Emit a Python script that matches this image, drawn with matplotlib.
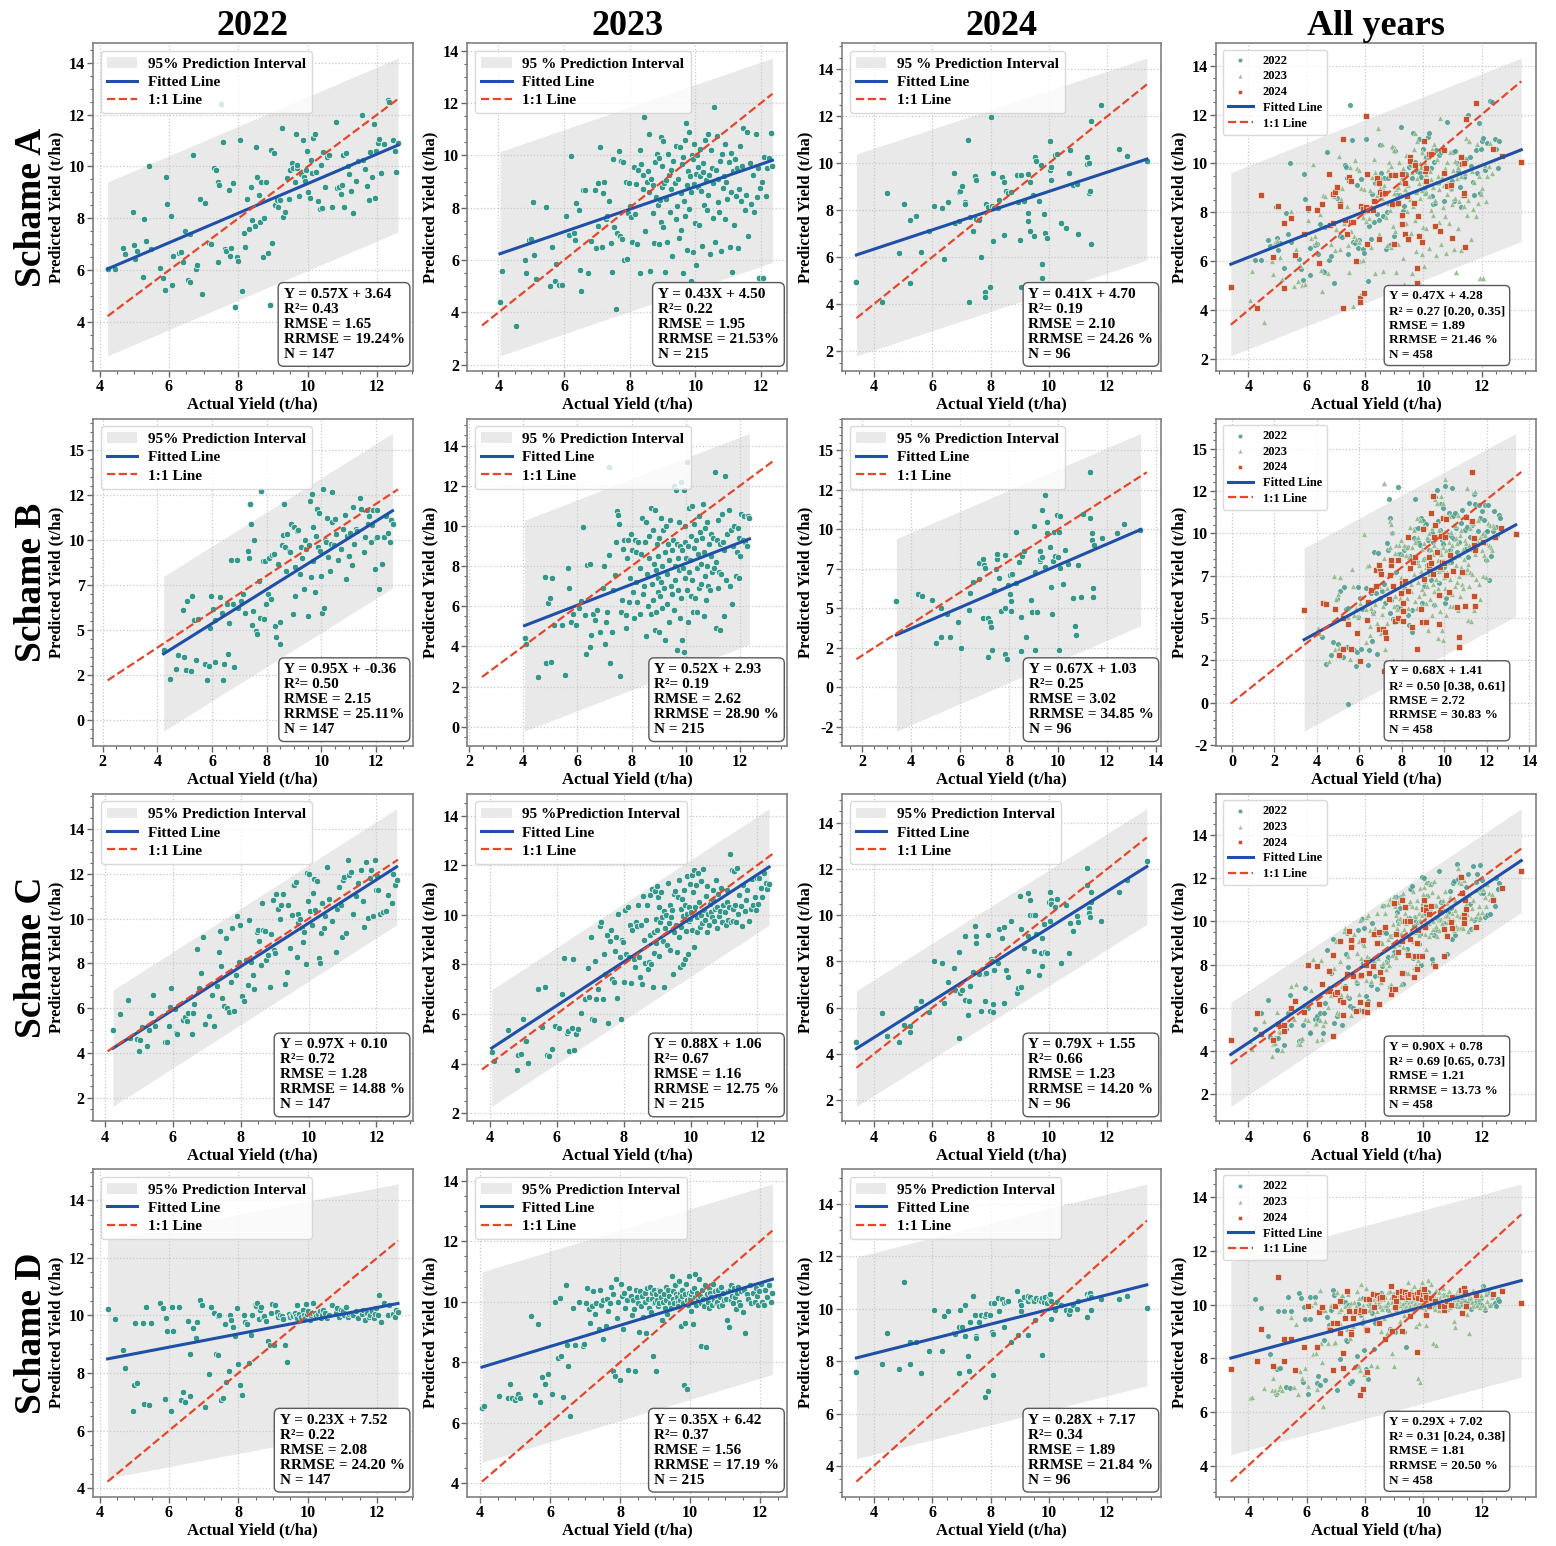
import matplotlib.pyplot as plt
import numpy as np
from matplotlib.ticker import MultipleLocator, AutoMinorLocator, FormatStrFormatter

plt.rcParams['font.family'] = ['Liberation Serif', 'DejaVu Serif']
plt.rcParams['font.weight'] = 'bold'
plt.rcParams['axes.labelweight'] = 'bold'
plt.rcParams['axes.titleweight'] = 'bold'

col_titles = ['2022', '2023', '2024', 'All years']
schemes = ['Schame A', 'Schame B', 'Schame C', 'Schame D']

# actual yield (t/ha), same sites for every scheme
x_2022 = [4.23, 4.45, 4.67, 4.74, 4.95, 4.99,
          5.03, 5.09, 5.24, 5.28, 5.35, 5.42, 5.48, 5.75, 5.82, 5.88, 5.92, 5.95,
          6.05, 6.10, 6.12, 6.30, 6.35, 6.40, 6.45, 6.55, 6.60, 6.62, 6.70, 6.78, 6.82, 6.90, 6.95,
          7.05, 7.15, 7.20, 7.30, 7.35, 7.40, 7.42, 7.45, 7.50, 7.55, 7.60, 7.65, 7.72, 7.75, 7.80, 7.85, 7.90, 7.95, 7.98,
          8.05, 8.10, 8.15, 8.20, 8.25, 8.30, 8.35, 8.40, 8.48, 8.50, 8.55, 8.60, 8.62, 8.65, 8.72, 8.75, 8.80, 8.85, 8.90, 8.95, 8.98,
          9.02, 9.05, 9.10, 9.15, 9.20, 9.25, 9.30, 9.35, 9.40, 9.45, 9.50, 9.55, 9.58, 9.62, 9.65, 9.68, 9.70, 9.75, 9.80, 9.85, 9.88, 9.92, 9.95, 9.98,
          10.02, 10.05, 10.10, 10.12, 10.15, 10.20, 10.25, 10.30, 10.35, 10.38, 10.40, 10.45, 10.50, 10.55, 10.60, 10.70, 10.80, 10.85, 10.90, 10.95, 10.98,
          11.02, 11.05, 11.10, 11.15, 11.20, 11.25, 11.30, 11.40, 11.45, 11.55, 11.60, 11.65, 11.70, 11.75, 11.80, 11.85, 11.90, 11.95, 11.98,
          12.02, 12.05, 12.10, 12.20, 12.30, 12.35, 12.45, 12.50, 12.55, 12.60]

x_2023 = [4.05, 4.12, 4.55, 4.80, 4.84, 4.92, 4.99,
          5.04, 5.07, 5.15, 5.45, 5.56, 5.64, 5.71, 5.76, 5.84, 5.95,
          6.05, 6.14, 6.22, 6.29, 6.32, 6.37, 6.45, 6.48, 6.52, 6.57, 6.64, 6.72, 6.83, 6.93, 6.97,
          7.02, 7.05, 7.10, 7.15, 7.18, 7.22, 7.28, 7.32, 7.38, 7.42, 7.45, 7.50, 7.52, 7.58, 7.62, 7.66, 7.70, 7.74, 7.78, 7.80,
          7.84, 7.88, 7.92, 7.95, 7.98,
          8.02, 8.05, 8.08, 8.12, 8.15, 8.18, 8.22, 8.25, 8.30, 8.33, 8.36, 8.40, 8.42, 8.45, 8.48, 8.52, 8.55, 8.58, 8.60, 8.63,
          8.66, 8.70, 8.72, 8.75, 8.78, 8.80, 8.83, 8.86, 8.88, 8.90, 8.92, 8.94, 8.96, 8.98, 8.99,
          9.01, 9.03, 9.05, 9.07, 9.10, 9.12, 9.14, 9.17, 9.20, 9.22, 9.25, 9.27, 9.30, 9.32, 9.35, 9.38, 9.40, 9.42, 9.45, 9.48,
          9.50, 9.52, 9.55, 9.57, 9.60, 9.62, 9.64, 9.66, 9.68, 9.70, 9.72, 9.74, 9.76, 9.78, 9.80, 9.82, 9.84, 9.86, 9.88, 9.90,
          9.92, 9.94, 9.96, 9.97, 9.99,
          10.01, 10.03, 10.05, 10.07, 10.09, 10.11, 10.13, 10.15, 10.18, 10.20, 10.22, 10.25, 10.27, 10.30, 10.32, 10.35, 10.38,
          10.40, 10.42, 10.45, 10.48, 10.50, 10.53, 10.55, 10.58, 10.60, 10.63, 10.66, 10.68, 10.70, 10.73, 10.76, 10.78, 10.80,
          10.83, 10.86, 10.89, 10.92, 10.95, 10.98,
          11.02, 11.05, 11.08, 11.10, 11.13, 11.16, 11.18, 11.20, 11.23, 11.26, 11.28, 11.30, 11.33, 11.36, 11.40, 11.43, 11.46,
          11.50, 11.54, 11.58, 11.62, 11.66, 11.70, 11.75, 11.80, 11.84, 11.88, 11.92, 11.95, 11.98,
          12.02, 12.05, 12.10, 12.15, 12.20, 12.25, 12.30, 12.35]

x_2024 = [3.40, 4.29, 4.45, 4.86, 5.03, 5.24, 5.24, 5.46, 5.60, 5.90,
          6.05, 6.35, 6.42, 6.54, 6.76, 6.79, 6.92, 6.92, 6.96, 7.03,
          7.13, 7.14, 7.23, 7.26, 7.31, 7.40, 7.46, 7.51, 7.51, 7.60,
          7.68, 7.82, 7.82, 7.85, 7.93, 7.97, 8.02, 8.05, 8.07, 8.07,
          8.13, 8.27, 8.30, 8.40, 8.47, 8.47, 8.52, 8.60, 8.69, 8.91,
          8.94, 9.00, 9.04, 9.05, 9.15, 9.28, 9.28, 9.28, 9.36, 9.36,
          9.45, 9.48, 9.53, 9.55, 9.67, 9.73, 9.77, 9.78, 9.83, 9.87,
          9.95, 10.00, 10.03, 10.05, 10.08, 10.08, 10.20, 10.28, 10.40, 10.59,
          10.70, 10.71, 10.83, 10.95, 11.00, 11.30, 11.32, 11.38, 11.38, 11.41,
          11.43, 11.46, 11.80, 12.39, 12.69, 13.36]

# predicted yield (t/ha)
y_a_2022 = [6.04, 6.05, 6.85, 6.62, 8.23, 6.97,
            6.44, 6.74, 5.74, 7.97, 7.12, 10.00, 6.80, 6.10, 5.70, 5.22, 9.58, 8.55,
            8.08, 5.45, 6.55, 6.65, 6.70, 6.30, 7.52, 5.62, 5.55, 7.40, 10.45, 6.05, 6.20, 8.75, 5.10,
            8.60, 7.05, 7.00, 9.95, 9.85, 9.40, 6.30, 9.30, 12.40, 10.95, 6.80, 6.75, 9.10, 6.55, 6.85, 9.35, 4.60, 6.50, 6.35,
            11.00, 5.20, 7.45, 6.90, 8.75, 7.60, 9.20, 7.95, 7.70, 10.75, 9.60, 8.90, 7.85, 9.40, 6.50, 8.00, 9.40, 6.65, 4.65, 10.65, 7.05,
            10.50, 8.50, 8.70, 8.45, 8.70, 11.50, 8.05, 8.25, 9.55, 8.75, 9.85, 10.15, 9.95, 9.40, 11.25, 9.95, 10.05, 8.85, 9.70, 11.00,
            9.60, 9.45, 9.85, 10.60,
            9.00, 8.80, 10.25, 9.75, 11.10, 11.25, 9.80, 8.65, 8.35, 10.05, 8.40, 10.55, 9.20, 10.35, 10.45, 8.45, 11.70, 9.15, 9.20, 8.95,
            9.30,
            10.45, 8.45, 10.50, 10.00, 9.70, 9.05, 8.20, 9.45, 10.20, 12.00, 10.25, 9.90, 9.25, 8.70, 10.55, 9.60, 11.65, 8.80, 10.60,
            10.90, 11.05, 9.75, 10.85, 12.55, 12.50, 11.00, 10.60, 9.80, 10.90]

y_b_2022 = [3.85, 2.28, 2.82, 3.58, 6.12, 3.49,
            2.74, 6.60, 2.69, 6.85, 5.56, 3.30, 5.60, 3.10, 2.18, 3.00, 5.07, 6.85,
            6.17, 3.18, 5.52, 6.80, 5.90, 2.20, 3.10, 6.45, 3.62, 5.35, 8.90, 6.45, 2.90, 8.85, 6.20,
            6.60, 7.00, 5.90, 9.40, 9.00, 12.00, 10.90, 5.28, 6.04, 10.00, 4.92, 4.74, 7.70, 5.67, 12.72, 8.80, 5.60, 8.80, 6.42,
            7.00, 9.00, 6.70, 9.15, 9.20, 5.20, 4.60, 8.66, 4.18, 5.45, 9.70, 10.28, 12.00, 9.60, 8.28, 10.30, 9.40, 9.30, 10.90, 5.86,
            10.70,
            8.47, 6.88, 10.50, 10.55, 8.10, 9.60, 9.00, 7.25, 10.00, 9.46, 5.77, 9.68, 12.16, 7.90, 12.57, 10.70, 8.84, 7.07, 10.20, 11.70,
            9.59, 11.50, 9.35, 8.00,
            5.90, 12.80, 6.20, 9.96, 9.87, 11.21, 9.03, 8.28, 9.78, 12.65, 11.00, 9.68, 11.17, 10.30, 8.90, 9.50, 10.60, 11.40, 7.80, 10.20,
            9.10,
            9.10, 10.40, 8.60, 11.80, 9.78, 10.60, 10.47, 12.30, 11.72, 9.30, 10.15, 11.68, 10.90, 11.30, 9.90, 10.80, 11.68, 8.40, 10.10,
            10.15, 11.68, 7.26, 8.66, 10.15, 11.34, 10.40, 9.90, 11.10, 10.90]

y_c_2022 = [5.00, 5.75, 6.36, 4.67, 4.61, 4.07,
            4.58, 5.16, 4.29, 5.04, 5.76, 6.58, 5.20, 4.47, 4.50, 5.19, 6.06, 6.91,
            5.97, 4.90, 4.84, 5.46, 5.60, 5.43, 5.76, 4.84, 5.78, 6.20, 8.65, 6.90, 7.59, 9.20, 5.28,
            5.63, 6.60, 5.20, 7.00, 8.50, 9.46, 7.90, 6.47, 6.10, 9.12, 6.00, 5.84, 7.16, 9.60, 5.88, 7.50, 10.10, 8.07, 9.70,
            6.55, 6.30, 8.15, 7.03, 9.93, 8.05, 7.48, 6.85, 9.40, 9.50, 9.00, 7.93, 10.72, 9.50, 9.45, 8.15, 8.37, 6.95, 9.30, 10.82,
            8.60,
            8.45, 11.12, 10.42, 10.00, 10.60, 11.12, 7.10, 7.63, 10.63, 8.70, 10.15, 11.50, 11.50, 11.64, 8.30, 9.80, 10.20, 10.00, 9.58,
            8.96, 9.40, 7.96, 12.04, 10.80,
            12.00, 10.33, 9.70, 11.16, 11.78, 10.37, 11.70, 8.25, 8.03, 9.36, 10.72, 9.60, 10.10, 12.31, 10.90, 9.90, 8.49, 10.45, 11.42,
            10.60, 9.20,
            11.75, 11.87, 9.36, 12.64, 11.97, 12.10, 10.20, 11.00, 11.60, 12.20, 10.80, 9.65, 12.55, 10.05, 11.80, 12.20, 10.10, 12.62,
            11.30,
            11.90, 11.30, 10.20, 10.30, 10.35, 11.05, 10.70, 12.00, 11.50, 11.75]

y_d_2022 = [10.22, 9.87, 8.81, 8.16, 6.68, 7.58,
            9.75, 7.65, 9.75, 6.92, 10.30, 6.90, 9.75, 10.42, 10.25, 7.10, 9.90, 9.45,
            6.68, 10.30, 9.45, 10.28, 7.08, 7.35, 7.00, 9.80, 8.67, 7.20, 9.55, 9.22, 9.78, 10.54, 10.35,
            6.82, 7.96, 10.28, 10.10, 8.67, 8.63, 9.98, 10.00, 7.06, 7.15, 9.70, 7.68, 8.08, 10.03, 9.85, 9.60, 9.30, 10.25, 8.30,
            7.58, 7.24, 10.00, 9.78, 9.70, 8.34, 9.33, 10.03, 10.36, 10.33, 10.44, 9.87, 10.20, 10.30, 9.95, 9.99, 9.80, 9.10, 8.96,
            10.10, 10.40,
            8.96, 10.36, 10.13, 9.95, 10.00, 9.99, 9.87, 8.99, 8.40, 10.05, 9.95, 10.02, 9.99, 10.10, 9.99, 9.90, 10.36, 10.05, 9.95,
            10.20, 10.00, 9.92, 10.40, 10.05,
            10.15, 9.85, 10.00, 10.10, 10.45, 10.10, 9.98, 10.05, 10.15, 9.92, 10.00, 10.20, 10.08, 9.90, 10.00, 10.35, 10.10, 10.25,
            9.95, 10.19, 10.05,
            10.15, 10.00, 10.30, 9.95, 10.05, 10.10, 10.00, 10.15, 9.90, 10.05, 10.20, 9.85, 10.10, 9.95, 10.00, 10.15, 9.90, 10.05,
            10.25,
            10.00, 10.71, 9.78, 10.42, 10.00, 10.35, 10.05, 9.95, 10.20, 10.13]

y_a_2023 = [4.40, 5.58, 3.50, 6.00, 5.49, 6.77, 6.82,
            8.20, 6.18, 5.29, 8.04, 5.00, 6.50, 5.19, 5.86, 5.03, 5.05,
            7.70, 6.97, 9.98, 7.03, 6.77, 8.18, 7.93, 5.63, 4.80, 8.69, 8.67, 5.50, 6.72, 8.68, 6.45,
            7.30, 8.95, 10.30, 6.50, 8.55, 9.00, 7.55, 7.70, 8.25, 6.65, 5.55, 9.85, 7.25, 4.15, 7.05, 10.15, 6.90, 9.80, 6.80, 9.75,
            6.00, 9.00, 6.05, 7.80, 8.95,
            8.05, 7.65, 6.70, 9.55, 7.75, 8.90, 6.60, 9.45, 10.20, 5.50, 9.65, 8.70, 9.25, 11.45, 7.10, 9.00, 9.40, 8.60, 10.80, 5.60,
            9.10, 8.85, 7.80, 6.65, 9.75, 8.40, 10.05, 8.10, 9.90, 6.60, 8.30, 10.70, 7.45, 9.60, 8.80,
            10.55, 7.25, 8.95, 5.55, 8.35, 9.05, 6.70, 10.05, 9.25, 7.85, 8.70, 9.45, 6.15, 9.80, 5.05, 8.95, 7.55, 10.35, 8.05, 9.10,
            6.85, 10.30, 8.55, 7.15, 9.65, 5.50, 9.95, 8.25, 10.60, 7.70, 11.25, 8.85, 6.40, 9.40, 10.90, 7.95, 9.20, 5.20, 8.60, 10.00,
            9.85, 6.30, 8.90, 10.45, 7.40,
            9.30, 5.80, 10.00, 8.80, 9.55, 7.35, 9.20, 10.25, 8.65, 6.55, 9.70, 9.35, 8.10, 10.60, 9.05, 7.90, 10.80, 8.50, 9.25, 6.25,
            10.20, 9.50, 7.60, 8.95, 11.85, 6.70, 9.45, 10.75, 8.20, 9.10, 7.85, 9.80, 6.35, 10.05, 8.75, 9.20, 7.55, 10.45, 9.00, 8.35,
            9.75, 6.50, 8.60, 10.10, 5.55, 9.40, 7.35, 9.85, 8.45, 4.20, 9.50, 6.45, 8.70, 10.35, 8.25, 9.60, 11.05, 7.90, 8.50, 10.90,
            6.90, 9.70, 8.15, 9.25, 7.85, 10.80, 8.40, 9.50, 5.30, 8.75,
            9.00, 5.30, 9.95, 8.45, 9.50, 9.90, 10.85, 9.60]

y_b_2023 = [4.40, 4.10, 2.48, 7.46, 3.16, 6.15, 6.43,
            3.25, 7.43, 5.05, 5.05, 2.60, 7.90, 6.90, 5.20, 5.60, 5.05,
            5.90, 6.25, 9.95, 5.55, 3.60, 8.07, 8.12, 3.98, 4.55, 5.60, 5.30, 5.80, 4.70, 6.90, 8.02,
            4.14, 5.22, 5.73, 8.57, 12.95, 3.18, 4.72, 6.80, 7.57, 9.20, 10.72, 10.56, 10.10, 2.54, 5.70, 6.30, 8.85, 9.30, 5.55, 4.90,
            8.40, 9.30, 6.20, 7.40, 9.60,
            8.80, 6.70, 5.40, 9.30, 7.20, 8.70, 6.20, 9.20, 5.60, 7.90, 8.60, 10.40, 6.60, 7.00, 9.20, 4.50, 10.20, 7.60, 6.00, 9.50,
            8.40, 5.60, 10.90, 7.10, 9.80, 6.30, 8.10, 10.80, 4.80, 7.80, 5.70, 9.10, 6.70, 8.50, 7.40,
            4.70, 9.40, 6.50, 10.40, 7.20, 8.00, 5.90, 9.80, 6.90, 8.70, 4.30, 10.00, 7.60, 6.10, 9.10, 8.30, 5.20, 10.30, 7.00, 8.80,
            6.60, 9.30, 12.00, 5.80, 8.00, 7.30, 11.80, 9.10, 3.80, 8.40, 6.80, 10.20, 7.80, 5.40, 9.00, 12.20, 6.40, 8.80, 4.30, 7.90,
            11.80, 3.70, 9.20, 7.40, 10.00,
            8.40, 6.80, 13.20, 9.00, 5.20, 7.70, 10.90, 8.30, 6.50, 9.50, 11.00, 7.30, 5.70, 8.90, 10.10, 6.40, 9.30, 7.90, 5.70, 8.60,
            10.50, 6.90, 9.70, 8.10, 7.10, 9.40, 11.10, 5.50, 8.70, 7.50, 9.90, 6.30, 10.20, 8.00, 7.00, 9.10, 6.80, 8.50, 9.60, 7.70,
            9.40, 7.90, 12.70, 8.20, 4.90, 9.30, 6.90, 10.30, 7.70, 4.80, 9.10, 7.60, 10.60, 9.20, 5.50, 8.80, 12.50, 7.30, 9.60, 10.80,
            7.00, 9.80, 6.10, 9.00, 10.00, 7.50, 8.70, 9.90, 7.40, 9.40,
            8.50, 10.60, 9.30, 10.50, 9.20, 9.00, 10.50, 10.40]

y_c_2023 = [4.45, 4.10, 5.37, 3.76, 4.34, 4.38, 5.80,
            4.92, 4.90, 4.03, 7.00, 5.46, 7.10, 4.34, 4.32, 4.60, 5.50,
            5.45, 6.80, 8.25, 5.25, 5.30, 4.50, 5.45, 8.20, 4.55, 5.20, 5.40, 6.05, 6.60, 7.85, 6.70,
            9.10, 5.80, 5.75, 8.15, 6.60, 7.00, 9.55, 9.70, 6.60, 8.40, 7.60, 9.20, 5.65, 8.95, 9.40, 7.40, 7.30, 8.55, 9.10, 6.65,
            10.05, 8.30, 5.80, 9.00, 8.90,
            7.30, 10.20, 8.40, 10.30, 8.30, 9.60, 7.25, 9.40, 8.20, 7.90, 9.70, 9.55, 10.40, 8.30, 7.50, 9.60, 7.20, 10.75, 9.00, 8.05,
            9.80, 10.40, 7.80, 8.10, 9.20, 10.80, 8.00, 11.05, 7.10, 9.30, 8.45, 10.95, 9.85, 8.85, 11.15,
            9.40, 10.70, 8.35, 10.30, 9.70, 10.90, 9.90, 8.95, 10.15, 7.10, 9.45, 10.00, 8.80, 11.30, 9.65, 10.40, 8.60, 9.90, 10.20, 7.60,
            10.85, 9.30, 10.95, 9.60, 8.50, 10.70, 9.10, 11.40, 7.90, 10.25, 9.50, 10.65, 8.00, 9.95, 11.00, 8.20, 10.40, 9.35, 10.05,
            11.55, 8.40, 9.75, 10.30, 9.85, 11.25,
            10.10, 11.60, 9.40, 10.90, 11.80, 8.70, 10.30, 11.20, 9.90, 9.30, 11.70, 10.50, 9.50, 11.35, 10.00, 9.65, 11.85, 10.20, 9.80,
            10.75, 9.30, 11.15, 10.05, 9.60, 10.45, 10.10, 9.90, 11.00, 10.60, 9.75, 10.25, 11.40, 9.45, 10.30, 10.85, 9.95, 10.15, 11.10,
            9.70, 10.40,
            10.10, 9.60, 11.00, 10.50, 9.80, 10.30, 12.45, 9.70, 11.80, 10.25, 9.75, 11.75, 10.40, 9.70, 11.90, 10.05, 10.80, 10.35, 9.55,
            11.20, 10.15, 10.60, 11.00, 9.75, 10.25, 11.45, 10.40, 10.70, 10.20, 11.50,
            10.45, 11.50, 11.10, 10.70, 11.70, 11.30, 11.05, 11.25]

y_d_2023 = [6.50, 6.55, 6.88, 6.80, 7.27, 6.80, 6.75,
            6.85, 6.95, 6.80, 9.53, 6.93, 9.26, 6.67, 7.51, 7.27, 7.62,
            6.95, 10.00, 8.14, 10.11, 8.20, 6.84, 10.55, 8.58, 7.87, 6.23, 9.80, 8.58, 10.00, 8.55, 8.60,
            9.95, 10.45, 9.75, 9.30, 9.85, 10.35, 9.60, 9.95, 9.10, 10.40, 9.90, 8.75, 10.05, 9.20, 10.10, 9.70, 9.95, 10.50, 7.70, 10.25,
            7.55, 10.75, 9.45, 10.00, 7.40,
            10.60, 10.20, 9.10, 10.30, 9.80, 10.05, 7.75, 10.45, 10.20, 9.55, 10.05, 9.75, 7.70, 10.40, 10.15, 9.95, 9.00, 10.35, 9.85,
            10.20, 9.50, 10.30, 10.00, 8.95, 10.45, 10.10, 9.80, 10.50, 9.65, 10.30, 10.10, 8.20, 9.95, 10.40, 10.00,
            7.70, 10.25, 10.05, 9.85, 10.40, 9.95, 10.35, 10.15, 9.40, 10.00, 10.25, 9.80, 10.50, 10.05, 9.60, 10.40, 10.20, 9.95, 9.80,
            10.85, 10.10, 10.35, 9.95, 10.55, 10.25, 10.15, 10.00, 9.85, 10.70, 10.30, 10.05, 9.20, 10.20, 10.40, 9.95, 7.25, 10.25, 9.30,
            10.60, 7.10, 10.05, 9.90, 10.85, 10.30, 10.10,
            10.25, 9.70, 10.35, 10.00, 9.25, 10.45, 10.15, 10.90, 9.90, 10.30, 10.05, 10.75, 10.20, 9.95, 8.55, 10.40, 10.10, 9.85, 10.55,
            8.50, 10.25, 10.00, 10.45, 9.80, 10.30, 10.15, 9.90, 10.60, 10.05, 10.35, 9.95, 10.20, 10.00, 10.40, 9.85, 10.15, 10.50, 9.90,
            10.30, 10.05,
            10.10, 9.40, 10.35, 9.15, 10.40, 10.05, 10.55, 10.20, 9.95, 10.45, 10.15, 9.75, 10.30, 10.50, 10.00, 9.90, 10.35, 9.65, 10.40,
            8.95, 10.25, 10.10, 10.55, 9.95, 10.30, 10.00, 10.45, 10.20, 9.90, 10.35,
            10.60, 10.00, 9.90, 10.40, 10.15, 10.55, 10.00, 10.30]

y_a_2024 = [4.93, 4.07, 8.73, 6.17, 8.26, 7.57, 4.90, 7.76, 6.24, 7.10,
            8.17, 8.10, 5.93, 8.36, 9.57, 7.47, 7.55, 8.76, 8.83, 9.04,
            8.33, 8.26, 10.99, 4.07, 7.69, 7.13, 9.44, 9.29, 7.62, 7.60,
            6.02, 4.50, 4.32, 8.26, 8.15, 4.72, 11.96, 8.20, 9.57, 6.69,
            8.10, 8.10, 8.45, 9.41, 9.20, 6.93, 8.82, 8.75, 8.79, 9.52,
            8.33, 6.72, 9.52, 4.72, 8.40, 9.55, 7.90, 7.52, 9.20, 7.12,
            8.66, 6.90, 10.28, 10.11, 8.38, 9.94, 5.71, 5.11, 7.84, 7.02,
            6.80, 4.10, 10.93, 9.71, 9.29, 9.83, 10.37, 10.40, 7.44, 7.24,
            9.60, 10.57, 9.07, 9.10, 6.97, 10.26, 9.98, 10.01, 8.73, 8.81,
            6.58, 11.81, 12.48, 10.61, 10.30, 10.08]

y_b_2024 = [5.45, 5.90, 5.80, 5.55, 2.80, 5.00, 3.15, 4.64, 3.15, 4.10,
            2.47, 4.90, 5.96, 6.66, 6.87, 7.85, 8.15, 4.36, 7.77, 7.57,
            4.36, 1.89, 4.15, 3.83, 2.34, 6.13, 7.51, 8.15, 8.43, 6.90,
            4.81, 5.00, 8.40, 2.09, 1.77, 6.45, 7.09, 5.91, 5.43, 4.85,
            7.20, 6.60, 9.81, 7.94, 2.30, 4.47, 8.32, 8.62, 3.15, 5.55,
            4.74, 10.23, 2.34, 7.30, 4.74, 8.62, 7.98, 8.10, 11.21, 8.23,
            12.19, 7.60, 9.79, 10.49, 8.90, 6.34, 4.64, 8.00, 9.85, 8.30,
            10.91, 8.26, 2.36, 9.81, 7.55, 10.85, 6.51, 8.70, 7.80, 5.66,
            3.89, 3.30, 7.72, 5.70, 10.98, 13.62, 10.74, 9.32, 9.74, 6.28,
            5.70, 9.00, 9.47, 9.79, 10.32, 9.96]

y_c_2024 = [4.50, 5.76, 4.80, 4.50, 5.25, 4.93, 5.22, 6.00, 6.30, 5.80,
            8.00, 7.95, 6.19, 7.10, 7.71, 6.78, 8.43, 4.70, 6.64, 6.75,
            9.08, 6.35, 5.68, 6.28, 6.93, 7.55, 9.54, 9.11, 8.80, 7.45,
            5.87, 6.28, 7.47, 7.50, 9.15, 5.85, 8.10, 8.00, 5.80, 6.16,
            7.61, 7.93, 9.40, 9.00, 9.50, 6.19, 7.65, 7.35, 9.75, 6.64,
            6.85, 10.84, 6.88, 9.40, 8.60, 10.96, 7.59, 9.10, 10.64, 10.00,
            10.01, 8.45, 10.00, 9.20, 7.43, 8.38, 9.00, 7.80, 9.60, 8.40,
            8.38, 10.55, 10.99, 9.75, 10.67, 10.50, 10.35, 10.70, 7.95, 10.45,
            8.38, 9.66, 9.30, 9.95, 9.70, 12.04, 11.30, 10.30, 10.10, 9.94,
            10.99, 10.55, 9.73, 10.99, 11.54, 12.33]

y_d_2024 = [7.60, 7.88, 9.08, 7.70, 11.03, 7.90, 8.72, 8.73, 7.56, 8.40,
            9.95, 8.40, 9.74, 9.91, 9.08, 9.05, 7.56, 9.31, 9.94, 9.30,
            10.13, 8.95, 8.18, 7.63, 9.50, 10.49, 9.75, 8.97, 8.90, 9.50,
            9.75, 6.64, 9.74, 9.80, 6.87, 9.75, 10.20, 9.10, 7.47, 9.05,
            10.20, 10.40, 9.90, 10.36, 10.20, 9.30, 10.25, 10.30, 8.72, 10.68,
            9.00, 10.30, 9.90, 10.15, 10.45, 9.00, 10.49, 10.30, 10.40, 10.45,
            10.35, 10.30, 9.58, 10.40, 10.35, 10.30, 10.40, 8.24, 10.25, 10.45,
            10.20, 10.40, 10.58, 10.35, 10.30, 9.60, 9.95, 10.25, 10.15, 9.95,
            9.80, 9.95, 10.15, 10.00, 10.30, 10.56, 9.68, 10.50, 10.40, 10.60,
            10.45, 9.95, 10.36, 10.38, 10.49, 10.04]

# one 2022 point that only appears in the pooled Schame B panel
extra_b_all_x = [5.45]
extra_b_all_y = [-0.05]

# regression results per scheme (rows) and 2022 / 2023 / 2024 / all years (columns)
slope = [[0.57, 0.43, 0.41, 0.47],
         [0.95, 0.52, 0.67, 0.68],
         [0.97, 0.88, 0.79, 0.90],
         [0.23, 0.35, 0.28, 0.29]]
intercept = [[3.64, 4.50, 4.70, 4.28],
             [-0.36, 2.93, 1.03, 1.41],
             [0.10, 1.06, 1.55, 0.78],
             [7.52, 6.42, 7.17, 7.02]]
r2_text = [['0.43', '0.22', '0.19', '0.27 [0.20, 0.35]'],
           ['0.50', '0.19', '0.25', '0.50 [0.38, 0.61]'],
           ['0.72', '0.67', '0.66', '0.69 [0.65, 0.73]'],
           ['0.22', '0.37', '0.34', '0.31 [0.24, 0.38]']]
rmse = [[1.65, 1.95, 2.10, 1.89],
        [2.15, 2.62, 3.02, 2.72],
        [1.28, 1.16, 1.23, 1.21],
        [2.08, 1.56, 1.89, 1.81]]
rrmse_text = [['19.24%', '21.53%', '24.26 %', '21.46 %'],
              ['25.11%', '28.90 %', '34.85 %', '30.83 %'],
              ['14.88 %', '12.75 %', '14.20 %', '13.73 %'],
              ['24.20 %', '17.19 %', '21.84 %', '20.50 %']]
n_points = [147, 215, 96, 458]
# half width of the 95% prediction band (t/ha)
pi_half = [[3.35, 3.90, 4.30, 3.75],
           [4.30, 5.25, 6.10, 5.40],
           [2.60, 2.35, 2.50, 2.40],
           [4.15, 3.15, 3.85, 3.60]]
pi_label = [['95% Prediction Interval', '95 % Prediction Interval', '95 % Prediction Interval'],
            ['95% Prediction Interval', '95 % Prediction Interval', '95 % Prediction Interval'],
            ['95% Prediction Interval', '95 %Prediction Interval', '95% Prediction Interval'],
            ['95% Prediction Interval', '95% Prediction Interval', '95% Prediction Interval']]
y_step = [[2, 2, 2, 2], [2.5, 2, 2.5, 2.5], [2, 2, 2, 2], [2, 2, 2, 2]]

x_years = [np.array(x_2022), np.array(x_2023), np.array(x_2024)]
y_schemes = [[y_a_2022, y_a_2023, y_a_2024],
             [y_b_2022, y_b_2023, y_b_2024],
             [y_c_2022, y_c_2023, y_c_2024],
             [y_d_2022, y_d_2023, y_d_2024]]

point_color = '#35978a'
fit_color = '#1f4fa6'
one_color = '#e4472a'
band_color = '#e9e9e9'


def band_and_lines(ax, x, y, k, b, half):
    xs = np.array([x.min(), x.max()])
    fit = k * xs + b
    band = ax.fill_between(xs, fit - half, fit + half, color=band_color, linewidth=0, zorder=1)
    fit_line, = ax.plot(xs, fit, color=fit_color, lw=2.2, zorder=5)
    lo = min(x.min(), y.min())
    hi = max(x.max(), y.max())
    one_line, = ax.plot([lo, hi], [lo, hi], '--', color=one_color, lw=1.6, zorder=6)
    return band, fit_line, one_line


def style_axes(ax, ystep):
    ax.xaxis.set_major_locator(MultipleLocator(2))
    ax.yaxis.set_major_locator(MultipleLocator(ystep))
    ax.xaxis.set_minor_locator(AutoMinorLocator())
    ax.yaxis.set_minor_locator(AutoMinorLocator())
    ax.xaxis.set_major_formatter(FormatStrFormatter('%d'))
    ax.yaxis.set_major_formatter(FormatStrFormatter('%d'))
    ax.grid(True, which='major', linestyle=':', color='#c8c8c8', linewidth=0.9)
    ax.tick_params(which='major', length=4, width=1, color='#666666', labelsize=11.5, pad=2)
    ax.tick_params(which='minor', length=2.5, width=0.8, color='#666666')
    for s in ax.spines.values():
        s.set_color('#808080')
        s.set_linewidth(1.2)
    ax.set_xlabel('Actual Yield (t/ha)', fontsize=12, labelpad=1)
    ax.set_ylabel('Predicted Yield (t/ha)', fontsize=12, labelpad=3)


fig, axes = plt.subplots(4, 4, figsize=(15.56, 15.46), dpi=100)
fig.subplots_adjust(left=0.0598, right=0.987, top=0.972, bottom=0.032, wspace=0.172, hspace=0.146)

for i in range(4):
    for j in range(3):
        ax = axes[i, j]
        x = x_years[j]
        y = np.array(y_schemes[i][j])
        band, fit_line, one_line = band_and_lines(ax, x, y, slope[i][j], intercept[i][j], pi_half[i][j])
        ax.scatter(x, y, s=22, color=point_color, edgecolors='white', linewidths=0.5, zorder=3)
        ax.legend([band, fit_line, one_line], [pi_label[i][j], 'Fitted Line', '1:1 Line'],
                  loc='upper left', fontsize=11, framealpha=0.8, edgecolor='#d0d0d0',
                  handlelength=2.0, handletextpad=0.7, labelspacing=0.3)
        stats = (f'Y = {slope[i][j]:.2f}X + {intercept[i][j]:.2f}\nR\u00b2= {r2_text[i][j]}\n'
                 f'RMSE = {rmse[i][j]:.2f}\nRRMSE = {rrmse_text[i][j]}\nN = {n_points[j]}')
        ax.text(0.975, 0.03, stats, transform=ax.transAxes, ha='right', va='bottom',
                multialignment='left', fontsize=11, linespacing=1.2, zorder=10,
                bbox=dict(boxstyle='round,pad=0.35', fc='white', ec='#595959', lw=1.0))
        style_axes(ax, y_step[i][j])

    # pooled panel
    ax = axes[i, 3]
    x22, x23, x24 = x_years
    y22 = np.array(y_schemes[i][0])
    y23 = np.array(y_schemes[i][1])
    y24 = np.array(y_schemes[i][2])
    if i == 1:
        x22 = np.concatenate([x22, extra_b_all_x])
        y22 = np.concatenate([y22, extra_b_all_y])
    x_all = np.concatenate([x22, x23, x24])
    y_all = np.concatenate([y22, y23, y24])
    band, fit_line, one_line = band_and_lines(ax, x_all, y_all, slope[i][3], intercept[i][3], pi_half[i][3])
    s22 = ax.scatter(x22, y22, s=16, marker='o', color='#4f9d8f', edgecolors='white', linewidths=0.3, alpha=0.9, zorder=3)
    s23 = ax.scatter(x23, y23, s=18, marker='^', color='#93b78d', edgecolors='white', linewidths=0.3, alpha=0.9, zorder=3)
    s24 = ax.scatter(x24, y24, s=18, marker='s', color='#c4532d', edgecolors='white', linewidths=0.4, zorder=4)
    ax.legend([s22, s23, s24, fit_line, one_line], ['2022', '2023', '2024', 'Fitted Line', '1:1 Line'],
              loc='upper left', fontsize=9, framealpha=0.8, edgecolor='#d0d0d0',
              handlelength=2.0, labelspacing=0.3, markerscale=0.8)
    stats = (f'Y = {slope[i][3]:.2f}X + {intercept[i][3]:.2f}\nR\u00b2 = {r2_text[i][3]}\n'
             f'RMSE = {rmse[i][3]:.2f}\nRRMSE = {rrmse_text[i][3]}\nN = {n_points[3]}')
    ax.text(0.54, 0.03, stats, transform=ax.transAxes, ha='left', va='bottom', fontsize=9.5,
            linespacing=1.3, zorder=10,
            bbox=dict(boxstyle='round,pad=0.35', fc='white', ec='#595959', lw=1.0))
    style_axes(ax, y_step[i][3])

for j in range(4):
    axes[0, j].set_title(col_titles[j], fontsize=26, pad=4)

for i in range(4):
    pos = axes[i, 0].get_position()
    fig.text(0.02, (pos.y0 + pos.y1) / 2, schemes[i], rotation=90, fontsize=27,
             fontweight='bold', ha='center', va='center')

fig.savefig('out.png', dpi=100)
